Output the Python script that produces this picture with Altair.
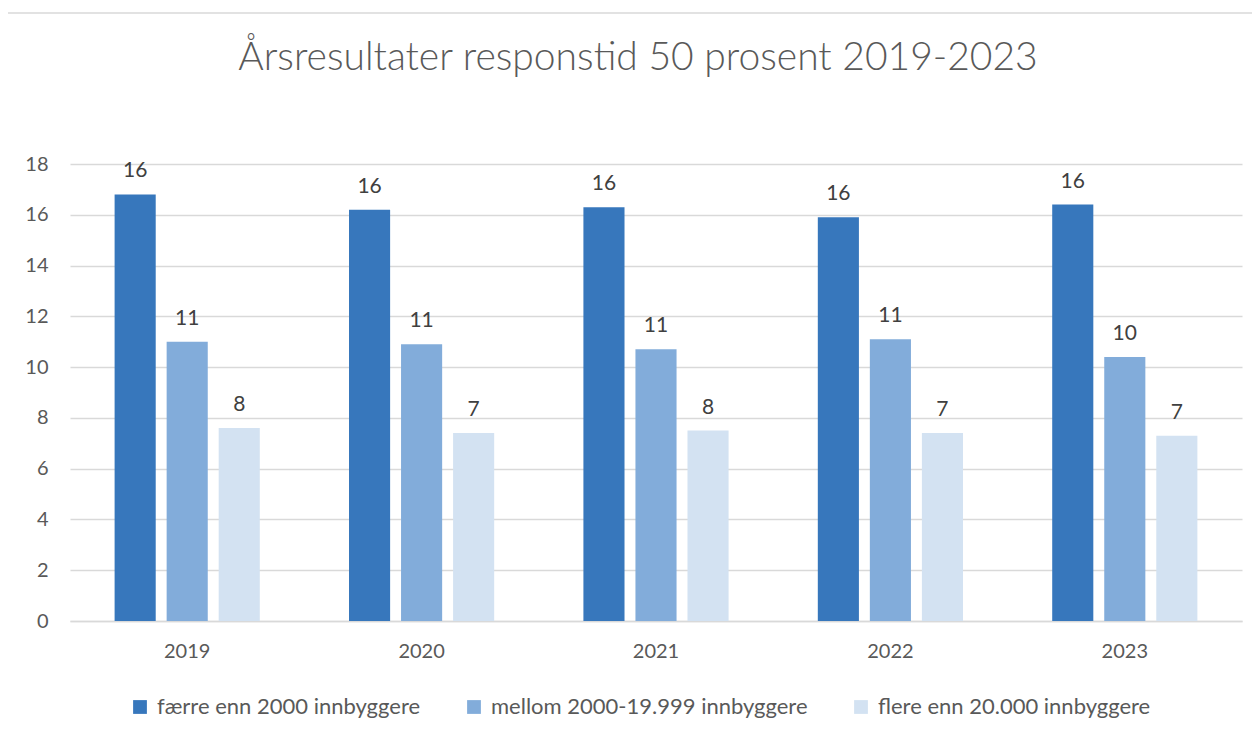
import altair as alt
import pandas as pd

years = ["2019", "2020", "2021", "2022", "2023"]
series = ["færre enn 2000 innbyggere", "mellom 2000-19.999 innbyggere", "flere enn 20.000 innbyggere"]
faerre = [16.8, 16.2, 16.3, 15.9, 16.4]
mellom = [11.0, 10.9, 10.7, 11.1, 10.4]
flere = [7.6, 7.4, 7.5, 7.4, 7.3]
faerre_lbl = ["16", "16", "16", "16", "16"]
mellom_lbl = ["11", "11", "11", "11", "10"]
flere_lbl = ["8", "7", "8", "7", "7"]
colors = ["#3777BC", "#82ACDA", "#D3E2F2"]
title_text = "Årsresultater responstid 50 prosent 2019-2023"

rows = []
for i, yr in enumerate(years):
    for s, vals, lbls in zip(series, [faerre, mellom, flere], [faerre_lbl, mellom_lbl, flere_lbl]):
        rows.append({"year": yr, "series": s, "value": vals[i], "label": lbls[i]})
df = pd.DataFrame(rows)

FONT = "Lato"

x = alt.X("year:N", sort=years, title=None,
          scale=alt.Scale(paddingInner=0.334, paddingOuter=0.167),
          axis=alt.Axis(labelAngle=0, labelFontSize=20, labelColor="#595959", labelFont=FONT,
                        labelPadding=20, ticks=False, domainColor="#d9d9d9", domainWidth=1.5,
                        grid=False))
xo = alt.XOffset("series:N", sort=series, scale=alt.Scale(paddingInner=0.21, paddingOuter=0.105))
y = alt.Y("value:Q", title=None,
          scale=alt.Scale(domain=[0, 18], nice=False),
          axis=alt.Axis(values=list(range(0, 20, 2)), labelFontSize=20, labelColor="#595959",
                        labelFont=FONT, labelPadding=22, ticks=False, domain=False,
                        gridColor="#d9d9d9", gridWidth=1.5))

one = pd.DataFrame({"t": [title_text]})

border = alt.Chart(one).mark_rect(
    fill=None, stroke="#d9d9d9", strokeWidth=1.5
).encode(x=alt.value(-67), x2=alt.value(1300), y=alt.value(-151), y2=alt.value(700))

title = alt.Chart(one).mark_text(
    fontSize=39, font=FONT, fontWeight=300, color="#595959", baseline="middle", align="center"
).encode(x=alt.value(568), y=alt.value(-106), text="t:N")

bars = alt.Chart(df).mark_bar().encode(
    x=x, xOffset=xo, y=y,
    color=alt.Color("series:N", sort=series,
                    scale=alt.Scale(domain=series, range=colors),
                    legend=alt.Legend(title=None, orient="none", legendX=59, legendY=532,
                                      direction="horizontal", columns=3, columnPadding=42,
                                      symbolType="square", symbolSize=190, symbolStrokeWidth=0,
                                      labelFontSize=22, labelColor="#595959", labelFont=FONT,
                                      labelOffset=6, labelLimit=0)),
)

labels = alt.Chart(df).mark_text(
    baseline="bottom", dy=-13, fontSize=21, color="#404040", font=FONT
).encode(x=x, xOffset=xo, y=y, text="label:N")

chart = alt.layer(border, title, bars, labels).properties(
    width=1172, height=457,
    autosize=alt.AutoSizeParams(type="none"),
    padding={"left": 62, "top": 156, "right": 10, "bottom": 106},
).configure_view(stroke=None)

chart.save("out.html", embed_options={"renderer": "svg", "actions": False})
